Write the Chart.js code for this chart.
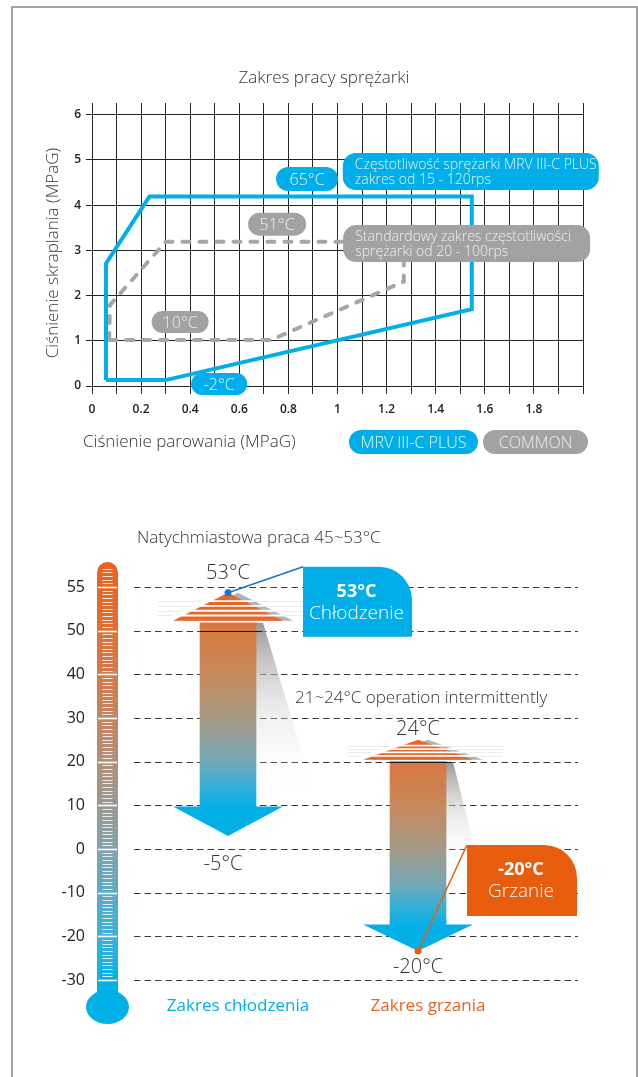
<!DOCTYPE html>
<html><head><meta charset="utf-8"><title>Zakres pracy sprężarki</title>
<script src="https://cdn.jsdelivr.net/npm/chart.js@4.4.1/dist/chart.umd.min.js"></script>
<style>
html,body{margin:0;padding:0;background:#fff}
#page{position:relative;width:638px;height:1077px;overflow:hidden;background:#fff}
#frame{position:absolute;left:11px;top:6px;width:627px;height:1100px;box-sizing:border-box;border:2px solid #a3a3a3;border-bottom:none}
#page canvas{position:absolute;left:0;top:0;width:638px;height:1077px}
</style></head><body>
<div id="page"><div id="frame"></div>
<canvas id="top" width="638" height="1077"></canvas>
<canvas id="bottom" width="638" height="1077"></canvas>
</div>
<script>
// ---------- data: compressor operating range ----------
const pressureGrid = [0,0.1,0.2,0.3,0.4,0.5,0.6,0.7,0.8,0.9,1,1.1,1.2,1.3,1.4,1.5,1.6,1.7,1.8,1.9,2];
const pressureLabels = ['0','0.2','0.4','0.6','0.8','1','1.2','1.4','1.6','1.8'];
const condTicks = [0,1,2,3,4,5,6];
const mrvEvap = [0.057,0.30,1.547,1.547,0.234,0.057,0.057];
const mrvCond = [0.13,0.13,1.70,4.19,4.19,2.71,0.13];
const comEvap = [0.07,0.73,1.27,1.27,0.30,0.073,0.07];
const comCond = [1.02,1.02,2.31,3.19,3.19,1.79,1.02];

// ---------- data: temperature ranges ----------
const tempTicks = [55,50,40,30,20,10,0,-10,-20,-30];
const ranges = ['Zakres chłodzenia','Zakres grzania'];
const shaftTop = [50.9, 20];
const shaftBottom = [9.6, -17.4];
const topTexts = ['53°C','24°C'];
const bottomTexts = ['-5°C','-20°C'];

const BLUE = '#00aeea', GRAY = '#a2a2a2', ORANGE = '#e8641e', ORANGE_BOX = '#e85d0d';
const FONT = "'Open Sans', Lato, sans-serif";
Chart.defaults.font.family = FONT;

// temperature axis is evenly spaced per tick (55 sits one step above 50)
function idx(t){ return t >= 50 ? 8 + (t-50)/5 : (t+30)/10; }
function tempLabel(v){ const t = tempTicks.find(t => Math.abs(idx(t)-v) < 1e-6); return t === undefined ? '' : String(t); }
function pressLabel(v){ const l = pressureLabels.find(l => Math.abs(Number(l)-v) < 1e-6); return l === undefined ? '' : l; }

function roundRect(ctx,x,y,w,h,r){
  ctx.beginPath(); ctx.moveTo(x+r,y);
  ctx.arcTo(x+w,y,x+w,y+h,r); ctx.arcTo(x+w,y+h,x,y+h,r);
  ctx.arcTo(x,y+h,x,y,r); ctx.arcTo(x,y,x+w,y,r); ctx.closePath();
}

// ---------- top chart annotations ----------
const topNotes = [
  {lines:['65°C'], x:0.876, y:4.58, w:62, h:24, fill:BLUE, color:'#e6f7fd', size:16},
  {lines:['Częstotliwość sprężarki MRV III-C PLUS','zakres od 15 - 120rps'], x:1.543, y:4.745, w:256, h:37, fill:BLUE, color:'#e6f7fd', size:14},
  {lines:['51°C'], x:0.754, y:3.58, w:58, h:23, fill:GRAY, color:'#eeeeee', size:16},
  {lines:['Standardowy zakres częstotliwości','sprężarki od 20 - 100rps'], x:1.526, y:3.15, w:247, h:37, fill:GRAY, color:'#f0f0f0', size:14},
  {lines:['10°C'], x:0.359, y:1.416, w:57, h:22, fill:GRAY, color:'#eeeeee', size:16},
  {lines:['-2°C'], x:0.518, y:0.044, w:56, h:22, fill:BLUE, color:'#e6f7fd', size:16}
];

const topNotesPlugin = {
  id:'topNotes',
  afterDatasetsDraw(chart){
    const {ctx, scales:{x, y}} = chart;
    ctx.save();
    ctx.textBaseline = 'middle';
    topNotes.forEach(n => {
      const cx = x.getPixelForValue(n.x), cy = y.getPixelForValue(n.y);
      ctx.fillStyle = n.fill;
      roundRect(ctx, cx-n.w/2, cy-n.h/2, n.w, n.h, Math.min(n.h/2, 13)); ctx.fill();
      ctx.fillStyle = n.color; ctx.font = `300 ${n.size}px ${FONT}`;
      if (n.lines.length === 1){ ctx.textAlign='center'; ctx.fillText(n.lines[0], cx, cy+1); }
      else { ctx.textAlign='left'; n.lines.forEach((l,i)=>ctx.fillText(l, cx-n.w/2+12, cy+(i-0.5)*15.5+1)); }
    });
    // legend pills
    const legend = [{t:'MRV III-C PLUS', cx:413.5, w:129, fill:BLUE, c:'#e6f7fd'},{t:'COMMON', cx:535.5, w:105, fill:GRAY, c:'#eeeeee'}];
    legend.forEach(l => {
      ctx.fillStyle = l.fill; roundRect(ctx, l.cx-l.w/2, 430, l.w, 24, 12); ctx.fill();
      ctx.fillStyle = l.c; ctx.font = `300 16px ${FONT}`; ctx.textAlign='center'; ctx.fillText(l.t, l.cx, 443);
    });
    // titles
    ctx.fillStyle = '#333'; ctx.font = `300 17px ${FONT}`;
    ctx.textAlign='center'; ctx.fillText('Zakres pracy sprężarki', 324, 78);
    ctx.textAlign='left'; ctx.fillText('Ciśnienie parowania (MPaG)', 83, 442);
    ctx.save(); ctx.translate(53, 253); ctx.rotate(-Math.PI/2); ctx.textAlign='center';
    ctx.fillText('Ciśnienie skraplania (MPaG)', 0, 0); ctx.restore();
    ctx.restore();
  }
};

new Chart(document.getElementById('top'), {
  type:'scatter',
  data:{datasets:[
    {label:'MRV III-C PLUS', data: mrvEvap.map((v,i)=>({x:v, y:mrvCond[i]})), showLine:true, borderColor:BLUE, borderWidth:4, pointRadius:0, fill:false, tension:0, borderJoinStyle:'miter', clip:false},
    {label:'COMMON', data: comEvap.map((v,i)=>({x:v, y:comCond[i]})), showLine:true, borderColor:'#a6a6a6', borderWidth:4, borderDash:[7,10], borderCapStyle:'round', pointRadius:0, fill:false, tension:0, clip:false}
  ]},
  options:{
    responsive:false, animation:false, events:[],
    layout:{padding:{left:52, right:55, top:103, bottom:651}},
    plugins:{legend:{display:false}, tooltip:{enabled:false}},
    scales:{
      x:{type:'linear', min:0, max:2,
        afterBuildTicks:s=>{ s.ticks = pressureGrid.map(v=>({value:v})); },
        afterFit:s=>{ s.height = 40; },
        grid:{color:'#262626', lineWidth:1, tickLength:8},
        border:{display:false},
        ticks:{autoSkip:false, maxRotation:0, padding:8, color:'#222', font:{size:12, weight:'600'}, callback:v=>pressLabel(v)}},
      y:{type:'linear', min:0, max:6.26,
        afterBuildTicks:s=>{ s.ticks = condTicks.map(v=>({value:v})); },
        afterFit:s=>{ s.width = 40; },
        grid:{color:'#262626', lineWidth:1, tickLength:6},
        border:{display:false},
        ticks:{padding:5, color:'#222', font:{size:12, weight:'600'}, callback:v=>String(v)}}
    }
  },
  plugins:[topNotesPlugin]
});

// ---------- bottom chart ----------
const headUp = [28, 20], headDown = [29, 26];
const topLabelDy = [-20, -10], bottomLabel = [[-5, 28], [0, 16]];
const shadowLen = [170, 110], shadowSlope = [0.3, 0.25];
const bottomBoxes = [
  {arrow:0, at:'up', dx:75, dy:-26, w:109, h:70, fill:BLUE, lines:['53°C','Chłodzenie'], dot:'#1b75bb'},
  {arrow:1, at:'down', dx:49, dy:-106, w:110, h:71, fill:ORANGE_BOX, lines:['-20°C','Grzanie'], dot:'#e85d0e'}
];

function shaftGradient(c){
  const ch = c.chart, ys = ch.scales.y;
  if (!ch.chartArea || !ys || c.dataIndex === undefined) return '#c8875a';
  const t = ys.getPixelForValue(idx(shaftTop[c.dataIndex])), b = ys.getPixelForValue(idx(shaftBottom[c.dataIndex]));
  const g = ch.ctx.createLinearGradient(0, t, 0, b);
  g.addColorStop(0, '#d9773e'); g.addColorStop(0.3, '#c48b5f'); g.addColorStop(0.55, '#a19a89');
  g.addColorStop(0.75, '#74a8b6'); g.addColorStop(0.9, '#30b0da'); g.addColorStop(1, '#05b0e6');
  return g;
}

function tri(ctx, a, b, c){ ctx.beginPath(); ctx.moveTo(a[0],a[1]); ctx.lineTo(b[0],b[1]); ctx.lineTo(c[0],c[1]); ctx.closePath(); }

const thermoPlugin = {
  id:'thermo',
  beforeDatasetsDraw(chart){
    const {ctx, scales:{y}} = chart;
    const yp = t => y.getPixelForValue(idx(t));
    ctx.save();
    // dashed grid lines
    ctx.strokeStyle = '#3a3a3a'; ctx.lineWidth = 1; ctx.setLineDash([6.5,4]);
    tempTicks.forEach(t => { const py = Math.round(yp(t))+0.5; ctx.beginPath(); ctx.moveTo(134,py); ctx.lineTo(578,py); ctx.stroke(); });
    ctx.setLineDash([]);
    // thermometer tube
    const x0 = 97, x1 = 118, cx = 107.5, top = yp(55)-25, bot = yp(-30);
    const g = ctx.createLinearGradient(0, top, 0, bot);
    g.addColorStop(0,'#e9631c'); g.addColorStop(0.27,'#d47a48'); g.addColorStop(0.48,'#b2907a');
    g.addColorStop(0.69,'#80a4ae'); g.addColorStop(0.895,'#3eb0d8'); g.addColorStop(1,'#08b0e6');
    ctx.fillStyle = g;
    ctx.beginPath(); ctx.moveTo(x0, bot+1); ctx.lineTo(x0, top+10.5); ctx.arc(cx, top+10.5, 10.5, Math.PI, 0); ctx.lineTo(x1, bot+1); ctx.closePath(); ctx.fill();
    ctx.fillStyle = '#00b0e6';
    ctx.fillRect(x0, bot, x1-x0, 14);
    ctx.beginPath(); ctx.ellipse(cx, bot+27, 21.5, 17, 0, 0, Math.PI*2); ctx.fill();
    // minor ticks
    const sp = (yp(50)-yp(55))/12;
    ctx.strokeStyle = 'rgba(255,255,255,0.8)'; ctx.lineWidth = 1;
    for (let k=1; bot - k*sp > top + 5; k++){
      if (k % 12 === 0) continue;
      const py = Math.round(bot - k*sp)+0.5;
      ctx.beginPath(); ctx.moveTo(102.5, py); ctx.lineTo(112.5, py); ctx.stroke();
    }
    ctx.strokeStyle = '#ffffff'; ctx.lineWidth = 1.6;
    tempTicks.forEach(t => { const py = Math.round(yp(t))+0.5; ctx.beginPath(); ctx.moveTo(x0+1,py); ctx.lineTo(x1-1,py); ctx.stroke(); });
    // perspective shadows of the arrows
    const meta = chart.getDatasetMeta(0);
    meta.data.forEach((el,i) => {
      const r = el.x + el.width/2, t = Math.min(el.y, el.base), L = shadowLen[i], s = shadowSlope[i];
      const sg = ctx.createLinearGradient(0, t, 0, t+L);
      sg.addColorStop(0,'rgba(135,135,135,0.85)'); sg.addColorStop(0.45,'rgba(200,200,200,0.45)'); sg.addColorStop(1,'rgba(255,255,255,0)');
      ctx.fillStyle = sg;
      ctx.beginPath(); ctx.moveTo(r-1, t); ctx.lineTo(r+7, t); ctx.lineTo(r+7+L*s, t+L); ctx.lineTo(r-1, t+L); ctx.closePath(); ctx.fill();
    });
    ctx.restore();
  },
  afterDatasetsDraw(chart){
    const {ctx, scales:{y}} = chart;
    const meta = chart.getDatasetMeta(0);
    const tips = [];
    ctx.save();
    meta.data.forEach((el,i) => {
      const cx = el.x, t = Math.min(el.y, el.base), b = Math.max(el.y, el.base), hw = 55;
      const base = t-2, H = headUp[i], tip = base-H, dTip = b+headDown[i];
      tips.push({x:cx, up:tip, down:dTip});
      const fr = [0.3,0.47,0.64,0.81];
      ctx.strokeStyle = '#ececec'; ctx.lineWidth = 1;
      fr.forEach(f => { const py = Math.round(tip+f*H)+0.5; ctx.beginPath(); ctx.moveTo(cx-70,py); ctx.lineTo(cx+85,py); ctx.stroke(); });
      ctx.fillStyle = '#b3b3b3'; tri(ctx,[cx+10-hw,base],[cx+10+hw,base],[cx+10,tip]); ctx.fill();
      ctx.fillStyle = '#e5672a'; tri(ctx,[cx-hw,base],[cx+hw,base],[cx,tip]); ctx.fill();
      ctx.save(); tri(ctx,[cx-hw-12,base],[cx+hw+12,base],[cx,tip-4]); ctx.clip();
      ctx.strokeStyle = '#ffffff'; ctx.lineWidth = 1.8;
      fr.forEach(f => { const py = tip+f*H; ctx.beginPath(); ctx.moveTo(cx-hw-12,py); ctx.lineTo(cx+hw+22,py); ctx.stroke(); });
      ctx.restore();
      const gy = i === 0 ? Math.round(y.getPixelForValue(idx(50)))+0.5 : Math.round(t)+0.5;
      ctx.strokeStyle = '#1a1a1a'; ctx.lineWidth = 1.2;
      ctx.beginPath(); ctx.moveTo(cx-el.width/2, gy); ctx.lineTo(cx+el.width/2+6, gy); ctx.stroke();
      ctx.fillStyle = '#03b0e6'; tri(ctx,[cx-hw,b-0.5],[cx+hw,b-0.5],[cx,dTip]); ctx.fill();
      ctx.fillStyle = '#333'; ctx.font = `300 20px ${FONT}`; ctx.textAlign='center'; ctx.textBaseline='middle';
      ctx.fillText(topTexts[i], cx, tip+topLabelDy[i]);
      ctx.fillText(bottomTexts[i], cx+bottomLabel[i][0], dTip+bottomLabel[i][1]);
    });
    bottomBoxes.forEach(bx => {
      const tp = tips[bx.arrow], px = tp.x, py = bx.at === 'up' ? tp.up : tp.down;
      const l = px+bx.dx, tt = py+bx.dy, r = l+bx.w, bb = tt+bx.h, rad = 33;
      ctx.fillStyle = bx.fill;
      ctx.beginPath(); ctx.moveTo(l,tt); ctx.lineTo(r-rad,tt); ctx.arcTo(r,tt,r,tt+rad,rad); ctx.lineTo(r,bb); ctx.lineTo(l,bb); ctx.closePath(); ctx.fill();
      ctx.strokeStyle = bx.dot; ctx.lineWidth = 1.5;
      ctx.beginPath(); ctx.moveTo(px,py); ctx.lineTo(l,tt); ctx.stroke();
      ctx.fillStyle = bx.dot; ctx.beginPath(); ctx.arc(px,py,3.5,0,Math.PI*2); ctx.fill();
      ctx.fillStyle = '#ffffff'; ctx.textAlign='center'; ctx.textBaseline='middle';
      ctx.font = `bold 18px ${FONT}`; ctx.fillText(bx.lines[0], l+bx.w/2-1, tt+25);
      ctx.font = `300 19px ${FONT}`; ctx.fillText(bx.lines[1], l+bx.w/2-1, tt+47);
    });
    ctx.fillStyle = '#333'; ctx.font = `300 17px ${FONT}`; ctx.textAlign='left'; ctx.textBaseline='middle';
    ctx.fillText('Natychmiastowa praca 45~53°C', 137, 538);
    ctx.fillText('21~24°C operation intermittently', 295, 698);
    ctx.restore();
  }
};

new Chart(document.getElementById('bottom'), {
  type:'bar',
  data:{labels:ranges, datasets:[{
    data: ranges.map((_,i)=>[idx(shaftBottom[i]), idx(shaftTop[i])]),
    backgroundColor: shaftGradient, borderWidth:0, barThickness:56, clip:false
  }]},
  options:{
    responsive:false, animation:false, events:[],
    layout:{padding:{left:40, right:125, top:587, bottom:57}},
    plugins:{legend:{display:false}, tooltip:{enabled:false}},
    scales:{
      x:{grid:{display:false, drawTicks:false}, border:{display:false},
        afterFit:s=>{ s.height = 40; },
        ticks:{padding:16, labelOffset:10, color:c=>c.index===0 ? BLUE : ORANGE, font:{size:17}}},
      y:{type:'linear', min:0, max:9,
        afterBuildTicks:s=>{ s.ticks = tempTicks.map(t=>({value:idx(t)})); },
        afterFit:s=>{ s.width = 93; },
        grid:{display:false, drawTicks:false}, border:{display:false},
        ticks:{padding:48, color:'#222', font:{size:16}, callback:v=>tempLabel(v)}}
    }
  },
  plugins:[thermoPlugin]
});
</script></body></html>
